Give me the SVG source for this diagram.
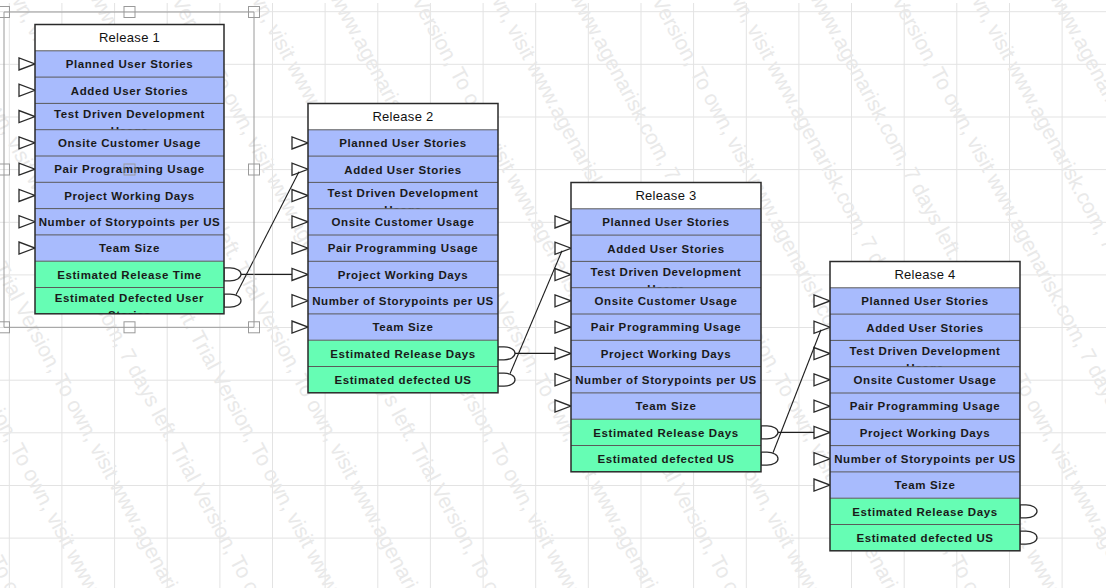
<svg xmlns="http://www.w3.org/2000/svg" width="1106" height="588" viewBox="0 0 1106 588">
<style>
.grid{stroke:#e3e3e3;stroke-width:1;fill:none}
.wm{font-family:"Liberation Sans",Arial,sans-serif;font-size:21px;fill:#e9e9e9}
.hd{fill:#ffffff}
.bl{fill:#a8bbfd}
.gr{fill:#66fdb4}
.sep{stroke:#5a5a5a;stroke-width:1;fill:none}
.frame{fill:none;stroke:#2a2a2a;stroke-width:1.5}
.hdt{font-family:"Liberation Sans",Arial,sans-serif;font-size:13px;letter-spacing:0.3px;text-anchor:middle;fill:#111}
.t{font-family:"Liberation Sans",Arial,sans-serif;font-size:11.5px;font-weight:bold;letter-spacing:0.6px;text-anchor:middle;fill:#1a1a1a}
.in{fill:#ffffff;stroke:#2a2a2a;stroke-width:1.3}
.out{fill:#ffffff;stroke:#2a2a2a;stroke-width:1.3}
.con{stroke:#1e1e1e;stroke-width:1.1;fill:none}
.sel{stroke:#9a9a9a;stroke-width:1;fill:none}
</style>
<defs>
<clipPath id="cTDD" clipPathUnits="userSpaceOnUse"><rect x="0" y="79.4" width="190" height="25.4"/></clipPath>
<clipPath id="cR9" clipPathUnits="userSpaceOnUse"><rect x="0" y="263.5" width="190" height="25.4"/></clipPath>
</defs>
<rect x="0" y="0" width="1106" height="588" fill="#ffffff"/>
<g id="grid">
<path class="grid" d="M9.3 3V588M61.9 3V588M114.6 3V588M167.2 3V588M219.9 3V588M272.5 3V588M325.1 3V588M377.8 3V588M430.4 3V588M483.1 3V588M535.7 3V588M588.3 3V588M641 3V588M693.6 3V588M746.3 3V588M798.9 3V588M851.5 3V588M904.2 3V588M956.8 3V588M1009.5 3V588M1062.1 3V588"/>
<path class="grid" d="M0 11.7H1106M0 64.3H1106M0 117H1106M0 169.6H1106M0 222.3H1106M0 274.9H1106M0 327.5H1106M0 380.2H1106M0 432.8H1106M0 485.5H1106M0 538.1H1106"/>
</g>
<g id="watermark" class="wm">
<text x="-330" y="-40" transform="rotate(62 -330 -40)">Trial Version, To own, visit www.agenarisk.com, 7 days left. Trial Version, To own, visit www.agenarisk.com, 7 days left.</text>
<text x="-250" y="-40" transform="rotate(62 -250 -40)">To own, visit www.agenarisk.com, 7 days left. Trial Version, To own, visit www.agenarisk.com, 7 days left.</text>
<text x="-170" y="-40" transform="rotate(62 -170 -40)">visit www.agenarisk.com, 7 days left. Trial Version, To own, visit www.agenarisk.com, 7 days left.</text>
<text x="-90" y="-40" transform="rotate(62 -90 -40)">Trial Version, To own, visit www.agenarisk.com, 7 days left. Trial Version, To own, visit www.agenarisk.com, 7 days left.</text>
<text x="-10" y="-40" transform="rotate(62 -10 -40)">To own, visit www.agenarisk.com, 7 days left. Trial Version, To own, visit www.agenarisk.com, 7 days left.</text>
<text x="70" y="-40" transform="rotate(62 70 -40)">visit www.agenarisk.com, 7 days left. Trial Version, To own, visit www.agenarisk.com, 7 days left.</text>
<text x="150" y="-40" transform="rotate(62 150 -40)">Trial Version, To own, visit www.agenarisk.com, 7 days left. Trial Version, To own, visit www.agenarisk.com, 7 days left.</text>
<text x="230" y="-40" transform="rotate(62 230 -40)">To own, visit www.agenarisk.com, 7 days left. Trial Version, To own, visit www.agenarisk.com, 7 days left.</text>
<text x="310" y="-40" transform="rotate(62 310 -40)">visit www.agenarisk.com, 7 days left. Trial Version, To own, visit www.agenarisk.com, 7 days left.</text>
<text x="390" y="-40" transform="rotate(62 390 -40)">Trial Version, To own, visit www.agenarisk.com, 7 days left. Trial Version, To own, visit www.agenarisk.com, 7 days left.</text>
<text x="470" y="-40" transform="rotate(62 470 -40)">To own, visit www.agenarisk.com, 7 days left. Trial Version, To own, visit www.agenarisk.com, 7 days left.</text>
<text x="550" y="-40" transform="rotate(62 550 -40)">visit www.agenarisk.com, 7 days left. Trial Version, To own, visit www.agenarisk.com, 7 days left.</text>
<text x="630" y="-40" transform="rotate(62 630 -40)">Trial Version, To own, visit www.agenarisk.com, 7 days left. Trial Version, To own, visit www.agenarisk.com, 7 days left.</text>
<text x="710" y="-40" transform="rotate(62 710 -40)">To own, visit www.agenarisk.com, 7 days left. Trial Version, To own, visit www.agenarisk.com, 7 days left.</text>
<text x="790" y="-40" transform="rotate(62 790 -40)">visit www.agenarisk.com, 7 days left. Trial Version, To own, visit www.agenarisk.com, 7 days left.</text>
<text x="870" y="-40" transform="rotate(62 870 -40)">Trial Version, To own, visit www.agenarisk.com, 7 days left. Trial Version, To own, visit www.agenarisk.com, 7 days left.</text>
<text x="950" y="-40" transform="rotate(62 950 -40)">To own, visit www.agenarisk.com, 7 days left. Trial Version, To own, visit www.agenarisk.com, 7 days left.</text>
<text x="1030" y="-40" transform="rotate(62 1030 -40)">visit www.agenarisk.com, 7 days left. Trial Version, To own, visit www.agenarisk.com, 7 days left.</text>
</g>

<g id="release1" transform="translate(35,24.5)">
<polygon class="in" points="-16,33.45 -16,45.45 0,39.45"/>
<polygon class="in" points="-16,59.75 -16,71.75 0,65.75"/>
<polygon class="in" points="-16,86.05 -16,98.05 0,92.05"/>
<polygon class="in" points="-16,112.35 -16,124.35 0,118.35"/>
<polygon class="in" points="-16,138.65 -16,150.65 0,144.65"/>
<polygon class="in" points="-16,164.95 -16,176.95 0,170.95"/>
<polygon class="in" points="-16,191.25 -16,203.25 0,197.25"/>
<polygon class="in" points="-16,217.55 -16,229.55 0,223.55"/>
<path class="out" d="M189,243.35h6a11,6.5 0 0 1 0,13h-6z"/>
<path class="out" d="M189,269.65h6a11,6.5 0 0 1 0,13h-6z"/>
<rect class="hd" x="0" y="0" width="189" height="26.3"/>
<rect class="bl" x="0" y="26.3" width="189" height="210.4"/>
<rect class="gr" x="0" y="236.7" width="189" height="52.6"/>
<path class="sep" d="M0 26.3H189M0 52.6H189M0 78.9H189M0 105.2H189M0 131.5H189M0 157.8H189M0 184.1H189M0 210.4H189M0 236.7H189M0 263H189"/>
<rect class="frame" x="0" y="0" width="189" height="289.3"/>
<text class="hdt" x="94.5" y="17.8">Release 1</text>
<text class="t" x="94.5" y="43.75">Planned User Stories</text>
<text class="t" x="94.5" y="70.05">Added User Stories</text>
<g clip-path="url(#cTDD)"><text class="t" x="94.5" y="93">Test Driven Development</text><text class="t" x="94.5" y="110.6">Usage</text></g>
<text class="t" x="94.5" y="122.65">Onsite Customer Usage</text>
<text class="t" x="94.5" y="148.95">Pair Programming Usage</text>
<text class="t" x="94.5" y="175.25">Project Working Days</text>
<text class="t" x="94.5" y="201.55">Number of Storypoints per US</text>
<text class="t" x="94.5" y="227.85">Team Size</text>
<text class="t" x="94.5" y="254.15">Estimated Release Time</text>
<g clip-path="url(#cR9)"><text class="t" x="94.5" y="277.1">Estimated Defected User</text><text class="t" x="94.5" y="294">Stories</text></g>
</g>

<g id="release2" transform="translate(308,103.5)">
<polygon class="in" points="-16,33.45 -16,45.45 0,39.45"/>
<polygon class="in" points="-16,59.75 -16,71.75 0,65.75"/>
<polygon class="in" points="-16,86.05 -16,98.05 0,92.05"/>
<polygon class="in" points="-16,112.35 -16,124.35 0,118.35"/>
<polygon class="in" points="-16,138.65 -16,150.65 0,144.65"/>
<polygon class="in" points="-16,164.95 -16,176.95 0,170.95"/>
<polygon class="in" points="-16,191.25 -16,203.25 0,197.25"/>
<polygon class="in" points="-16,217.55 -16,229.55 0,223.55"/>
<path class="out" d="M190,243.35h6a11,6.5 0 0 1 0,13h-6z"/>
<path class="out" d="M190,269.65h6a11,6.5 0 0 1 0,13h-6z"/>
<rect class="hd" x="0" y="0" width="190" height="26.3"/>
<rect class="bl" x="0" y="26.3" width="190" height="210.4"/>
<rect class="gr" x="0" y="236.7" width="190" height="52.6"/>
<path class="sep" d="M0 26.3H190M0 52.6H190M0 78.9H190M0 105.2H190M0 131.5H190M0 157.8H190M0 184.1H190M0 210.4H190M0 236.7H190M0 263H190"/>
<rect class="frame" x="0" y="0" width="190" height="289.3"/>
<text class="hdt" x="95" y="17.8">Release 2</text>
<text class="t" x="95" y="43.75">Planned User Stories</text>
<text class="t" x="95" y="70.05">Added User Stories</text>
<g clip-path="url(#cTDD)"><text class="t" x="95" y="93">Test Driven Development</text><text class="t" x="95" y="110.6">Usage</text></g>
<text class="t" x="95" y="122.65">Onsite Customer Usage</text>
<text class="t" x="95" y="148.95">Pair Programming Usage</text>
<text class="t" x="95" y="175.25">Project Working Days</text>
<text class="t" x="95" y="201.55">Number of Storypoints per US</text>
<text class="t" x="95" y="227.85">Team Size</text>
<text class="t" x="95" y="254.15">Estimated Release Days</text>
<text class="t" x="95" y="280.45">Estimated defected US</text>
</g>

<g id="release3" transform="translate(571,182.5)">
<polygon class="in" points="-16,33.45 -16,45.45 0,39.45"/>
<polygon class="in" points="-16,59.75 -16,71.75 0,65.75"/>
<polygon class="in" points="-16,86.05 -16,98.05 0,92.05"/>
<polygon class="in" points="-16,112.35 -16,124.35 0,118.35"/>
<polygon class="in" points="-16,138.65 -16,150.65 0,144.65"/>
<polygon class="in" points="-16,164.95 -16,176.95 0,170.95"/>
<polygon class="in" points="-16,191.25 -16,203.25 0,197.25"/>
<polygon class="in" points="-16,217.55 -16,229.55 0,223.55"/>
<path class="out" d="M190,243.35h6a11,6.5 0 0 1 0,13h-6z"/>
<path class="out" d="M190,269.65h6a11,6.5 0 0 1 0,13h-6z"/>
<rect class="hd" x="0" y="0" width="190" height="26.3"/>
<rect class="bl" x="0" y="26.3" width="190" height="210.4"/>
<rect class="gr" x="0" y="236.7" width="190" height="52.6"/>
<path class="sep" d="M0 26.3H190M0 52.6H190M0 78.9H190M0 105.2H190M0 131.5H190M0 157.8H190M0 184.1H190M0 210.4H190M0 236.7H190M0 263H190"/>
<rect class="frame" x="0" y="0" width="190" height="289.3"/>
<text class="hdt" x="95" y="17.8">Release 3</text>
<text class="t" x="95" y="43.75">Planned User Stories</text>
<text class="t" x="95" y="70.05">Added User Stories</text>
<g clip-path="url(#cTDD)"><text class="t" x="95" y="93">Test Driven Development</text><text class="t" x="95" y="110.6">Usage</text></g>
<text class="t" x="95" y="122.65">Onsite Customer Usage</text>
<text class="t" x="95" y="148.95">Pair Programming Usage</text>
<text class="t" x="95" y="175.25">Project Working Days</text>
<text class="t" x="95" y="201.55">Number of Storypoints per US</text>
<text class="t" x="95" y="227.85">Team Size</text>
<text class="t" x="95" y="254.15">Estimated Release Days</text>
<text class="t" x="95" y="280.45">Estimated defected US</text>
</g>

<g id="release4" transform="translate(830,261.5)">
<polygon class="in" points="-16,33.45 -16,45.45 0,39.45"/>
<polygon class="in" points="-16,59.75 -16,71.75 0,65.75"/>
<polygon class="in" points="-16,86.05 -16,98.05 0,92.05"/>
<polygon class="in" points="-16,112.35 -16,124.35 0,118.35"/>
<polygon class="in" points="-16,138.65 -16,150.65 0,144.65"/>
<polygon class="in" points="-16,164.95 -16,176.95 0,170.95"/>
<polygon class="in" points="-16,191.25 -16,203.25 0,197.25"/>
<polygon class="in" points="-16,217.55 -16,229.55 0,223.55"/>
<path class="out" d="M190,243.35h6a11,6.5 0 0 1 0,13h-6z"/>
<path class="out" d="M190,269.65h6a11,6.5 0 0 1 0,13h-6z"/>
<rect class="hd" x="0" y="0" width="190" height="26.3"/>
<rect class="bl" x="0" y="26.3" width="190" height="210.4"/>
<rect class="gr" x="0" y="236.7" width="190" height="52.6"/>
<path class="sep" d="M0 26.3H190M0 52.6H190M0 78.9H190M0 105.2H190M0 131.5H190M0 157.8H190M0 184.1H190M0 210.4H190M0 236.7H190M0 263H190"/>
<rect class="frame" x="0" y="0" width="190" height="289.3"/>
<text class="hdt" x="95" y="17.8">Release 4</text>
<text class="t" x="95" y="43.75">Planned User Stories</text>
<text class="t" x="95" y="70.05">Added User Stories</text>
<g clip-path="url(#cTDD)"><text class="t" x="95" y="93">Test Driven Development</text><text class="t" x="95" y="110.6">Usage</text></g>
<text class="t" x="95" y="122.65">Onsite Customer Usage</text>
<text class="t" x="95" y="148.95">Pair Programming Usage</text>
<text class="t" x="95" y="175.25">Project Working Days</text>
<text class="t" x="95" y="201.55">Number of Storypoints per US</text>
<text class="t" x="95" y="227.85">Team Size</text>
<text class="t" x="95" y="254.15">Estimated Release Days</text>
<text class="t" x="95" y="280.45">Estimated defected US</text>
</g>

<g id="connectors">
<path class="con" d="M241 274.4H292"/>
<path class="con" d="M236 294.7L299 171.8"/>
<path class="con" d="M515 353.4H555"/>
<path class="con" d="M510 373.7L562 250.8"/>
<path class="con" d="M778 432.4H814"/>
<path class="con" d="M773 452.7L821 329.8"/>
</g>

<g id="selection">
<path class="sel" d="M4 12H254V327.3H4Z"/>
<rect class="sel" x="-1.5" y="6.5" width="11" height="11"/>
<rect class="sel" x="124" y="6.5" width="11" height="11"/>
<rect class="sel" x="248.5" y="6.5" width="11" height="11"/>
<rect class="sel" x="-1.5" y="164" width="11" height="11"/>
<rect class="sel" x="124" y="164" width="11" height="11"/>
<rect class="sel" x="248.5" y="164" width="11" height="11"/>
<rect class="sel" x="-1.5" y="321.8" width="11" height="11"/>
<rect class="sel" x="124" y="321.8" width="11" height="11"/>
<rect class="sel" x="248.5" y="321.8" width="11" height="11"/>
</g>
</svg>
